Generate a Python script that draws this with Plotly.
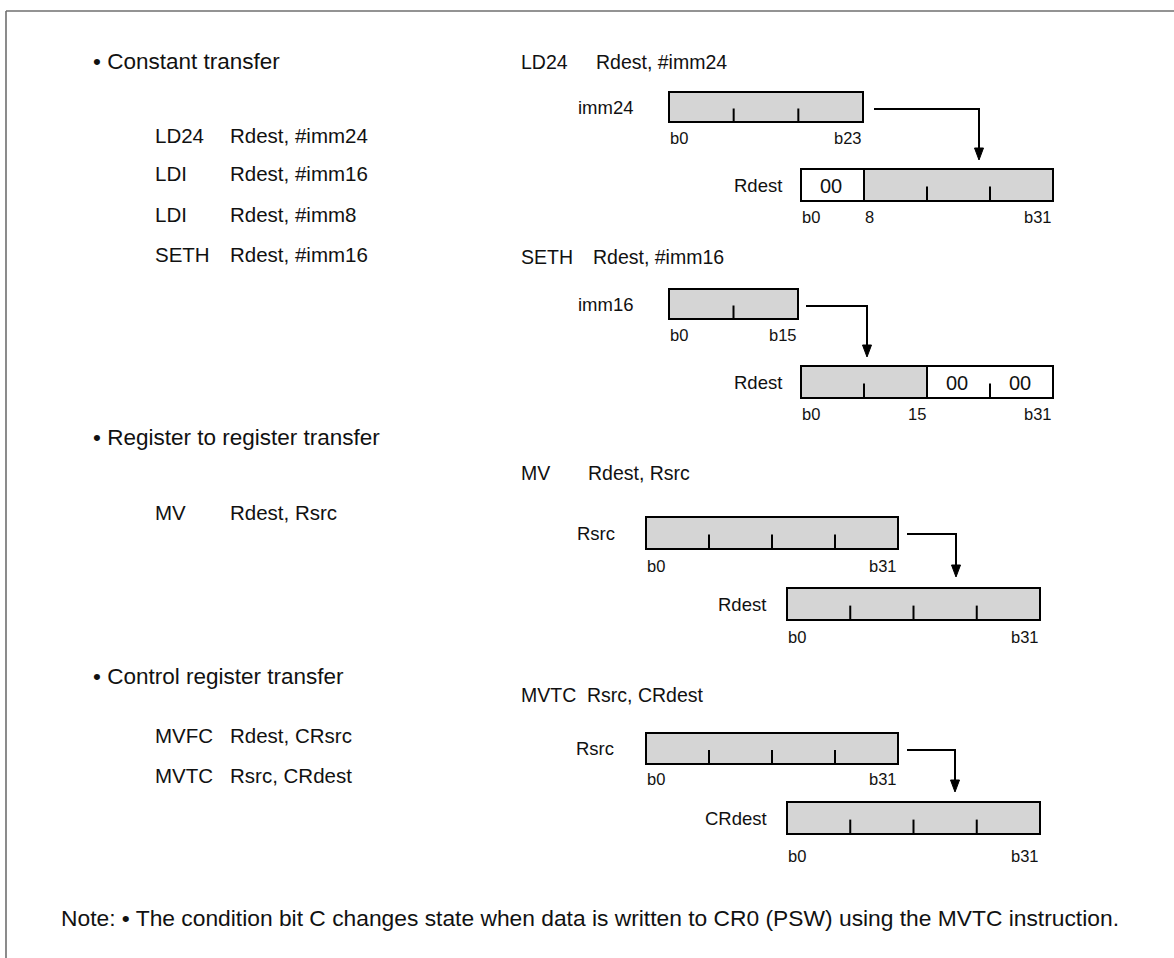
import plotly.graph_objects as go

W, H = 1174, 958
FONT = "Liberation Sans, Arial, Helvetica, sans-serif"

# ---------------- content ----------------
section_titles = ["Constant transfer", "Register to register transfer", "Control register transfer"]
section_y = [61, 437, 676]

list_mnemonics = ["LD24", "LDI", "LDI", "SETH", "MV", "MVFC", "MVTC"]
list_operands = ["Rdest, #imm24", "Rdest, #imm16", "Rdest, #imm8", "Rdest, #imm16",
                 "Rdest, Rsrc", "Rdest, CRsrc", "Rsrc, CRdest"]
list_y = [135, 173, 214, 254, 512, 735, 775]

diagram_mnemonics = ["LD24", "SETH", "MV", "MVTC"]
diagram_operands = ["Rdest, #imm24", "Rdest, #imm16", "Rdest, Rsrc", "Rsrc, CRdest"]
diagram_title_y = [62, 257, 473, 695]
diagram_operand_x = [595, 592, 587, 586]

note_text = "Note: \u2022 The condition bit C changes state when data is written to CR0 (PSW) using the MVTC instruction."

# registers: name, width in bits, shaded ranges, white ranges with text, tick bits, bit labels
reg_names = ["imm24", "Rdest", "imm16", "Rdest", "Rsrc", "Rdest", "Rsrc", "CRdest"]
reg_bits = [24, 32, 16, 32, 32, 32, 32, 32]
reg_gray = [[(0, 24)], [(8, 32)], [(0, 16)], [(0, 16)], [(0, 32)], [(0, 32)], [(0, 32)], [(0, 32)]]
reg_white = [[], [(0, 8, "00")], [], [(16, 24, "00"), (24, 32, "00")], [], [], [], []]
reg_dividers = [[], [8], [], [16], [], [], [], []]
reg_ticks = [[8, 16], [16, 24], [8], [8, 24], [8, 16, 24], [8, 16, 24], [8, 16, 24], [8, 16, 24]]
reg_labels = [
    [("b0", 0, "left"), ("b23", 24, "right")],
    [("b0", 0, "left"), ("8", 8, "left"), ("b31", 32, "right")],
    [("b0", 0, "left"), ("b15", 16, "right")],
    [("b0", 0, "left"), ("15", 16, "right"), ("b31", 32, "right")],
    [("b0", 0, "left"), ("b31", 32, "right")],
    [("b0", 0, "left"), ("b31", 32, "right")],
    [("b0", 0, "left"), ("b31", 32, "right")],
    [("b0", 0, "left"), ("b31", 32, "right")],
]

# ---------------- layout (pixel positions) ----------------
reg_x0 = [669, 801, 669, 801, 646, 787, 646, 787]
reg_x1 = [863, 1053, 798, 1053, 898, 1040, 898, 1040]
reg_y0 = [92, 169, 289, 366, 517, 588, 733, 802]
reg_y1 = [122, 201, 319, 398, 549, 620, 764, 834]
reg_label_y = [138, 217, 335, 414, 566, 637, 779, 856]
reg_name_x = [635, 783, 635, 783, 616, 767, 615, 768]

# arrows: start x, corner x, y of horizontal run, tip y
arrow_x0 = [874, 806, 907, 907]
arrow_x1 = [979, 867, 956, 955]
arrow_y = [109, 306, 534, 750]
arrow_tip = [160, 357, 577, 792]

GRAY = "#d5d5d5"
FRAME = "#6f6f6f"
HEAD_SIZE = 22.5
NOTE_SIZE = 22.8
LIST_SIZE = 20.5
TITLE_SIZE = 19.5

shapes = []
annotations = []


def text(x, y, s, size, anchor="left", color="#111111"):
    annotations.append(dict(x=x, y=y, xref="x", yref="y", text=s, showarrow=False,
                            xanchor=anchor, yanchor="middle", borderpad=0,
                            font=dict(family=FONT, size=size, color=color)))


# frame
shapes.append(dict(type="line", x0=6, x1=W, y0=11, y1=11, line=dict(color=FRAME, width=1.6)))
shapes.append(dict(type="line", x0=6, x1=6, y0=11, y1=H, line=dict(color=FRAME, width=1.6)))

# section headings
for t, y in zip(section_titles, section_y):
    text(92, y, "\u2022 " + t, HEAD_SIZE)

# left instruction list
for m, o, y in zip(list_mnemonics, list_operands, list_y):
    text(154, y, m, LIST_SIZE)
    text(229, y, o, LIST_SIZE)

# diagram titles
for m, o, y, ox in zip(diagram_mnemonics, diagram_operands, diagram_title_y, diagram_operand_x):
    text(520, y, m, TITLE_SIZE)
    text(ox, y, o, TITLE_SIZE)

# registers
for i in range(len(reg_names)):
    x0, x1, y0, y1, n = reg_x0[i], reg_x1[i], reg_y0[i], reg_y1[i], reg_bits[i]
    bx = lambda b: x0 + (x1 - x0) * b / n
    for a, b in reg_gray[i]:
        shapes.append(dict(type="rect", x0=bx(a), x1=bx(b), y0=y0, y1=y1,
                           fillcolor=GRAY, line=dict(width=0), layer="below"))
    for a, b, s in reg_white[i]:
        text((bx(a) + bx(b)) / 2 - 2, (y0 + y1) / 2 + 1, s, 20, "center")
    for d in reg_dividers[i]:
        shapes.append(dict(type="line", x0=bx(d), x1=bx(d), y0=y0, y1=y1,
                           line=dict(color="#000000", width=2)))
    tick_top = y1 - (y1 - y0) * 0.45
    for t in reg_ticks[i]:
        shapes.append(dict(type="line", x0=bx(t), x1=bx(t), y0=tick_top, y1=y1,
                           line=dict(color="#000000", width=2)))
    shapes.append(dict(type="rect", x0=x0, x1=x1, y0=y0, y1=y1,
                       line=dict(color="#000000", width=2), fillcolor="rgba(0,0,0,0)"))
    for s, b, anc in reg_labels[i]:
        text(bx(b), reg_label_y[i], s, 16.5, anc)
    text(reg_name_x[i], (y0 + y1) / 2, reg_names[i], 18.5, "right")

# arrows
for xa, xb, ya, yt in zip(arrow_x0, arrow_x1, arrow_y, arrow_tip):
    shapes.append(dict(type="path", path=f"M {xa},{ya} L {xb},{ya} L {xb},{yt - 10}",
                       line=dict(color="#000000", width=2)))
    shapes.append(dict(type="path", path=f"M {xb - 4.5},{yt - 12} L {xb + 4.5},{yt - 12} L {xb},{yt} Z",
                       fillcolor="#000000", line=dict(color="#000000", width=1)))

# note
text(60, 918, note_text, NOTE_SIZE)

fig = go.Figure()
fig.add_trace(go.Scatter(x=[0, W], y=[0, H], mode="markers", marker=dict(opacity=0),
                         hoverinfo="skip", showlegend=False))
fig.update_layout(
    width=W, height=H, autosize=False,
    margin=dict(l=0, r=0, t=0, b=0),
    paper_bgcolor="white", plot_bgcolor="white",
    xaxis=dict(range=[0, W], visible=False, fixedrange=True),
    yaxis=dict(range=[H, 0], visible=False, fixedrange=True),
    shapes=shapes, annotations=annotations, showlegend=False,
)
fig.write_html("out.html", config={"displayModeBar": False, "staticPlot": True},
               post_script="document.body.style.margin='0';document.body.style.overflow='hidden';")
